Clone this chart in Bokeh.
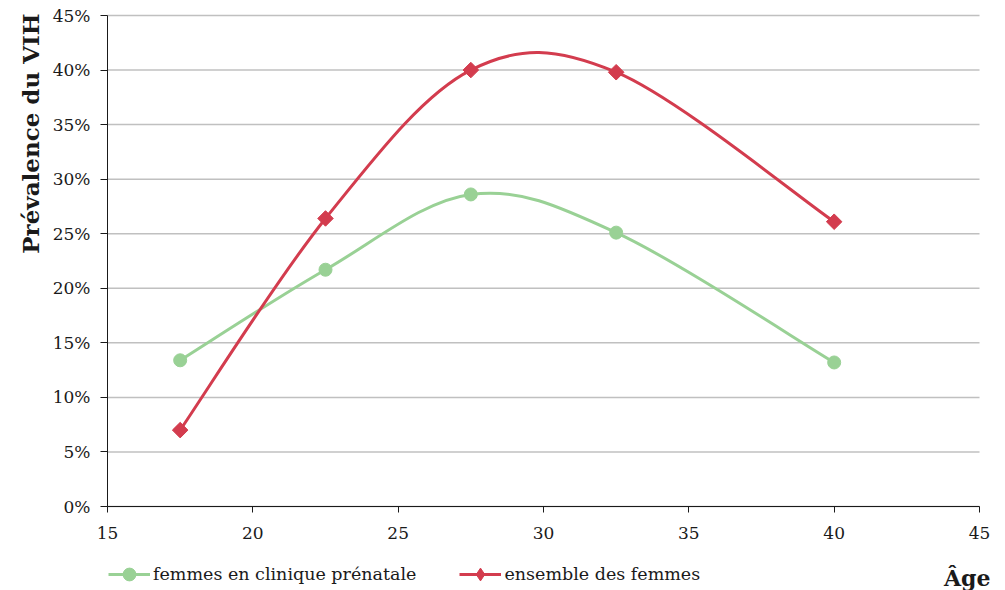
import math
from bokeh.plotting import figure
from bokeh.models import (Range1d, FixedTicker, PrintfTickFormatter, Legend,
                          LegendItem, Label, ColumnDataSource, LinearAxis)
from bokeh.embed import file_html
from bokeh.resources import INLINE

# ---- data ----
ages = [17.5, 22.5, 27.5, 32.5, 40]
prenatal = [13.4, 21.7, 28.6, 25.1, 13.2]      # % femmes en clinique prénatale
all_women = [7.0, 26.4, 40.0, 39.8, 26.1]      # % ensemble des femmes
series_labels = ["femmes en clinique prénatale", "ensemble des femmes"]
x_ticks = [15, 20, 25, 30, 35, 40, 45]
y_ticks = [0, 5, 10, 15, 20, 25, 30, 35, 40, 45]
y_axis_title = "Prévalence du VIH"
x_axis_title = "Âge"

GREEN = "#99D195"
RED = "#D33C4E"
INK = "#1a1a1a"
FONT = "DejaVu Serif"

# ---- layout (pixels) ----
W, H = 998, 590
PLOT_L, PLOT_R, PLOT_T, PLOT_B = 107, 979, 15, 506
PXX = (PLOT_R - PLOT_L) / (x_ticks[-1] - x_ticks[0])
PXY = (PLOT_B - PLOT_T) / (y_ticks[-1] - y_ticks[0])
X0 = x_ticks[0] - PLOT_L / PXX
X1 = X0 + W / PXX
Y1 = y_ticks[-1] + PLOT_T / PXY
Y0 = Y1 - H / PXY


def smooth_segments(xs, ys):
    """Bezier control points (Catmull-Rom style, as spreadsheet smoothing)."""
    n = len(xs)
    d = dict(x0=[], y0=[], x1=[], y1=[], cx0=[], cy0=[], cx1=[], cy1=[])
    for i in range(n - 1):
        xp, yp = (xs[i - 1], ys[i - 1]) if i > 0 else (xs[i], ys[i])
        xn, yn = (xs[i + 2], ys[i + 2]) if i + 2 < n else (xs[i + 1], ys[i + 1])
        d["x0"].append(xs[i]); d["y0"].append(ys[i])
        d["x1"].append(xs[i + 1]); d["y1"].append(ys[i + 1])
        d["cx0"].append(xs[i] + (xs[i + 1] - xp) / 6)
        d["cy0"].append(ys[i] + (ys[i + 1] - yp) / 6)
        d["cx1"].append(xs[i + 1] - (xn - xs[i]) / 6)
        d["cy1"].append(ys[i + 1] - (yn - ys[i]) / 6)
    return ColumnDataSource(d)


p = figure(frame_width=W, frame_height=H,
           min_border_left=0, min_border_right=0, min_border_top=0, min_border_bottom=0,
           x_range=Range1d(X0, X1), y_range=Range1d(Y0, Y1),
           x_axis_location=None, y_axis_location=None,
           output_backend="svg", toolbar_location=None)
p.outline_line_color = None
p.background_fill_color = "white"
p.border_fill_color = "white"
p.grid.visible = False

# horizontal gridlines over the plot area only
p.segment(x0=x_ticks[0], x1=x_ticks[-1], y0=y_ticks, y1=y_ticks,
          line_color="#C0C0C0", line_width=1.5)

xaxis = LinearAxis(fixed_location=y_ticks[0], bounds=(x_ticks[0], x_ticks[-1]))
yaxis = LinearAxis(fixed_location=x_ticks[0], bounds=(y_ticks[0], y_ticks[-1]))
p.add_layout(xaxis, "below")
p.add_layout(yaxis, "left")

for ax in (xaxis, yaxis):
    ax.axis_line_color = INK
    ax.major_tick_line_color = INK
    ax.minor_tick_line_color = None
    ax.major_tick_in = 0
    ax.major_label_text_font = FONT
    ax.major_label_text_font_size = "17px"
    ax.major_label_text_color = INK

xaxis.ticker = FixedTicker(ticks=x_ticks)
xaxis.major_tick_out = 6
xaxis.major_label_standoff = 14

yaxis.ticker = FixedTicker(ticks=y_ticks)
yaxis.formatter = PrintfTickFormatter(format="%d%%")
yaxis.major_tick_out = 7
yaxis.major_label_standoff = 10

# y-axis title, top-aligned as in the original
p.add_layout(Label(x=30, y=y_ticks[-1], x_units="screen", y_units="data", y_offset=2,
                   angle=math.pi / 2, text=y_axis_title,
                   text_align="right", text_baseline="middle",
                   text_font=FONT, text_font_style="bold", text_font_size="23px",
                   text_color=INK))

# series
src_g = smooth_segments(ages, prenatal)
src_r = smooth_segments(ages, all_women)
g_curve = p.bezier(x0="x0", y0="y0", x1="x1", y1="y1", cx0="cx0", cy0="cy0",
                   cx1="cx1", cy1="cy1", source=src_g, line_color=GREEN, line_width=3)
g_pts = p.scatter(ages, prenatal, marker="circle", size=13, fill_color=GREEN, line_color=GREEN)
r_curve = p.bezier(x0="x0", y0="y0", x1="x1", y1="y1", cx0="cx0", cy0="cy0",
                   cx1="cx1", cy1="cy1", source=src_r, line_color=RED, line_width=3)
# diamond marker used for the legend key (hidden under the rotated squares)
r_key = p.scatter(ages, all_women, marker="diamond", size=10, fill_color=RED, line_color=RED)
r_pts = p.scatter(ages, all_women, marker="square", angle=math.pi / 4, size=11,
                  fill_color=RED, line_color=RED)

legend = Legend(items=[LegendItem(label=series_labels[0], renderers=[g_curve, g_pts]),
                       LegendItem(label=series_labels[1], renderers=[r_curve, r_key])],
                orientation="horizontal", location=(PLOT_L + 1, H - 590),
                glyph_width=42, glyph_height=32, label_standoff=3, spacing=43,
                padding=0, margin=0, border_line_color=None, background_fill_alpha=0,
                label_text_font=FONT, label_text_font_size="17.5px",
                label_text_color=INK)
p.add_layout(legend, "center")

p.add_layout(Label(x=x_ticks[-1], y=13, x_units="data", y_units="screen", x_offset=11,
                   text=x_axis_title, text_align="right", text_baseline="middle",
                   text_font=FONT, text_font_style="bold", text_font_size="22px",
                   text_color=INK))

open("out.html", "w").write(file_html(p, INLINE))
